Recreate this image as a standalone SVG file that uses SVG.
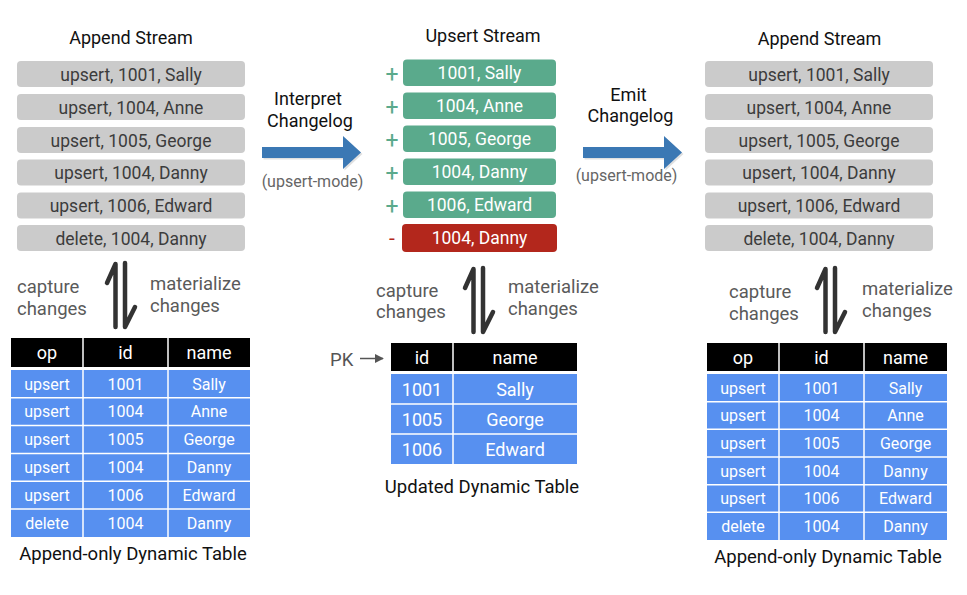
<svg xmlns="http://www.w3.org/2000/svg" xmlns:xlink="http://www.w3.org/1999/xlink" width="967" height="595" viewBox="0 0 967 595">
<style>
text{font-family:Roboto,"Liberation Sans",sans-serif}
.title{font-size:18px;fill:#111;text-anchor:middle}
.lbl{font-size:18.5px;fill:#111;text-anchor:middle}
.side{font-size:18.5px;fill:#5a5a5a}
.mode{font-size:16px;fill:#666;text-anchor:middle}
.gbox{fill:#cbcbcb}
.gtxt{font-size:17.5px;fill:#3c3c3c;text-anchor:middle}
.grn{fill:#5aaa8c}
.red{fill:#b3271c}
.wtxt{font-size:17.5px;fill:#fff;text-anchor:middle}
.plus{font-size:23px;fill:#5aaa8c;text-anchor:middle}
.hdr{fill:#000}
.cell{fill:#5790f0}
.sep{stroke:#fff;stroke-width:1.5}
.th{font-size:18px;fill:#fff;text-anchor:middle}
.td{font-size:16px;fill:#fff;text-anchor:middle}
.td2{font-size:18px;fill:#fff;text-anchor:middle}
.harp{fill:none;stroke:#333;stroke-width:4.5;stroke-linecap:round;stroke-linejoin:round}
.big{fill:#3b78b4}
.shadow{fill:#000;opacity:0.12}
</style>
<defs>
<path id="dharp" d="M115.5 327 V264 L107 283 M125 263 V327 L135 307"/>
<path id="barrow" d="M0 11 H81 V0 L99 16.5 L81 33 V22 H0 Z"/>
<marker id="pkhead" viewBox="0 0 10 10" refX="9" refY="5" markerWidth="6" markerHeight="6" orient="auto"><path d="M0 0 L10 5 L0 10 Z" fill="#555"/></marker>
</defs>

<!-- Left append stream -->
<g id="left-stream">
<text class="title" x="131" y="44">Append Stream</text>
<rect class="gbox" x="17" y="61" width="228" height="26" rx="4"/>
<text class="gtxt" x="131" y="80.5">upsert, 1001, Sally</text>
<rect class="gbox" x="17" y="94" width="228" height="26" rx="4"/>
<text class="gtxt" x="131" y="113.5">upsert, 1004, Anne</text>
<rect class="gbox" x="17" y="127" width="228" height="26" rx="4"/>
<text class="gtxt" x="131" y="146.5">upsert, 1005, George</text>
<rect class="gbox" x="17" y="159.5" width="228" height="26" rx="4"/>
<text class="gtxt" x="131" y="179">upsert, 1004, Danny</text>
<rect class="gbox" x="17" y="192.5" width="228" height="26" rx="4"/>
<text class="gtxt" x="131" y="212">upsert, 1006, Edward</text>
<rect class="gbox" x="17" y="225" width="228" height="26" rx="4"/>
<text class="gtxt" x="131" y="244.5">delete, 1004, Danny</text>
</g>

<!-- Middle upsert stream -->
<g id="upsert-stream">
<text class="title" x="483" y="42">Upsert Stream</text>
<rect class="grn" x="403" y="59.5" width="153" height="26.5" rx="4"/>
<text class="wtxt" x="479.5" y="79">1001, Sally</text>
<text class="plus" x="392" y="82">+</text>
<rect class="grn" x="403" y="92.5" width="153" height="26.5" rx="4"/>
<text class="wtxt" x="479.5" y="112">1004, Anne</text>
<text class="plus" x="392" y="115">+</text>
<rect class="grn" x="403" y="125.5" width="153" height="26.5" rx="4"/>
<text class="wtxt" x="479.5" y="145">1005, George</text>
<text class="plus" x="392" y="148">+</text>
<rect class="grn" x="403" y="158.5" width="153" height="26.5" rx="4"/>
<text class="wtxt" x="479.5" y="178">1004, Danny</text>
<text class="plus" x="392" y="181">+</text>
<rect class="grn" x="403" y="191.5" width="153" height="26.5" rx="4"/>
<text class="wtxt" x="479.5" y="211">1006, Edward</text>
<text class="plus" x="392" y="214">+</text>
<rect class="red" x="402" y="224" width="155" height="28" rx="4"/>
<text class="wtxt" x="479.5" y="244">1004, Danny</text>
<text x="392" y="245" font-size="21" fill="#b3271c" text-anchor="middle">-</text>
</g>

<!-- Right append stream -->
<g id="right-stream">
<text class="title" x="819.5" y="45">Append Stream</text>
<rect class="gbox" x="705" y="61" width="228" height="26" rx="4"/>
<text class="gtxt" x="819" y="80.5">upsert, 1001, Sally</text>
<rect class="gbox" x="705" y="94" width="228" height="26" rx="4"/>
<text class="gtxt" x="819" y="113.5">upsert, 1004, Anne</text>
<rect class="gbox" x="705" y="127" width="228" height="26" rx="4"/>
<text class="gtxt" x="819" y="146.5">upsert, 1005, George</text>
<rect class="gbox" x="705" y="159.5" width="228" height="26" rx="4"/>
<text class="gtxt" x="819" y="179">upsert, 1004, Danny</text>
<rect class="gbox" x="705" y="192.5" width="228" height="26" rx="4"/>
<text class="gtxt" x="819" y="212">upsert, 1006, Edward</text>
<rect class="gbox" x="705" y="225" width="228" height="26" rx="4"/>
<text class="gtxt" x="819" y="244.5">delete, 1004, Danny</text>
</g>

<!-- Connectors -->
<g id="connectors">
<g id="interpret-arrow">
<use xlink:href="#barrow" class="shadow" transform="translate(263.5,137.5)"/>
<use xlink:href="#barrow" class="big" transform="translate(262,136)"/>
<text class="lbl" x="308" y="105" style="font-size:18px">Interpret</text>
<text class="lbl" x="310" y="127" style="font-size:18px">Changelog</text>
<text class="mode" x="312.5" y="187">(upsert-mode)</text>
</g>
<g id="emit-arrow">
<use xlink:href="#barrow" class="shadow" transform="translate(584.5,137.5)"/>
<use xlink:href="#barrow" class="big" transform="translate(583,136)"/>
<text class="lbl" x="628.5" y="100.5" style="font-size:18px">Emit</text>
<text class="lbl" x="630.5" y="122" style="font-size:18px">Changelog</text>
<text class="mode" x="626.5" y="181">(upsert-mode)</text>
</g>
<g id="left-harpoons">
<use xlink:href="#dharp" class="harp"/>
<text class="side" x="17" y="293">capture</text>
<text class="side" x="17" y="315">changes</text>
<text class="side" x="150" y="290">materialize</text>
<text class="side" x="150" y="312">changes</text>
</g>
<g id="mid-harpoons">
<use xlink:href="#dharp" class="harp" transform="translate(358,5)"/>
<text class="side" x="376" y="297">capture</text>
<text class="side" x="376" y="318">changes</text>
<text class="side" x="508" y="293">materialize</text>
<text class="side" x="508" y="315">changes</text>
</g>
<g id="right-harpoons">
<use xlink:href="#dharp" class="harp" transform="translate(710,5)"/>
<text class="side" x="729" y="298">capture</text>
<text class="side" x="729" y="320">changes</text>
<text class="side" x="862" y="295">materialize</text>
<text class="side" x="862" y="317">changes</text>
</g>
<g id="pk-arrow">
<text x="330" y="366" font-size="18.5" fill="#555">PK</text>
<line x1="360" y1="358.5" x2="383" y2="358.5" stroke="#555" stroke-width="1.5" marker-end="url(#pkhead)"/>
</g>
</g>

<!-- Left table -->
<g id="left-table">
<rect class="hdr" x="11" y="338" width="239" height="29"/>
<rect class="cell" x="11" y="370" width="239" height="167"/>
<line class="sep" x1="83" y1="338" x2="83" y2="537"/>
<line class="sep" x1="168" y1="338" x2="168" y2="537"/>
<line class="sep" x1="11" y1="397.8" x2="250" y2="397.8"/>
<line class="sep" x1="11" y1="425.6" x2="250" y2="425.6"/>
<line class="sep" x1="11" y1="453.4" x2="250" y2="453.4"/>
<line class="sep" x1="11" y1="481.2" x2="250" y2="481.2"/>
<line class="sep" x1="11" y1="509" x2="250" y2="509"/>
<text class="th" x="47" y="359">op</text>
<text class="th" x="125.5" y="359">id</text>
<text class="th" x="209" y="359">name</text>
<text class="td" x="47" y="389.5">upsert</text><text class="td" x="125.5" y="389.5">1001</text><text class="td" x="209" y="389.5">Sally</text>
<text class="td" x="47" y="417.3">upsert</text><text class="td" x="125.5" y="417.3">1004</text><text class="td" x="209" y="417.3">Anne</text>
<text class="td" x="47" y="445.1">upsert</text><text class="td" x="125.5" y="445.1">1005</text><text class="td" x="209" y="445.1">George</text>
<text class="td" x="47" y="472.9">upsert</text><text class="td" x="125.5" y="472.9">1004</text><text class="td" x="209" y="472.9">Danny</text>
<text class="td" x="47" y="500.7">upsert</text><text class="td" x="125.5" y="500.7">1006</text><text class="td" x="209" y="500.7">Edward</text>
<text class="td" x="47" y="528.5">delete</text><text class="td" x="125.5" y="528.5">1004</text><text class="td" x="209" y="528.5">Danny</text>
<text class="lbl" x="133" y="560">Append-only Dynamic Table</text>
</g>

<!-- Middle table -->
<g id="updated-table">
<rect class="hdr" x="391" y="343" width="186" height="28"/>
<rect class="cell" x="391" y="374" width="186" height="90"/>
<line class="sep" x1="453" y1="343" x2="453" y2="464"/>
<line class="sep" x1="391" y1="404" x2="577" y2="404"/>
<line class="sep" x1="391" y1="434" x2="577" y2="434"/>
<text class="th" x="422" y="364">id</text>
<text class="th" x="515" y="364">name</text>
<text class="td2" x="422" y="395.5">1001</text><text class="td2" x="515" y="395.5">Sally</text>
<text class="td2" x="422" y="425.5">1005</text><text class="td2" x="515" y="425.5">George</text>
<text class="td2" x="422" y="455.5">1006</text><text class="td2" x="515" y="455.5">Edward</text>
<text class="lbl" x="482" y="493">Updated Dynamic Table</text>
</g>

<!-- Right table -->
<g id="right-table">
<rect class="hdr" x="707" y="343" width="240" height="28"/>
<rect class="cell" x="707" y="374" width="240" height="166"/>
<line class="sep" x1="779" y1="343" x2="779" y2="540"/>
<line class="sep" x1="864" y1="343" x2="864" y2="540"/>
<line class="sep" x1="707" y1="401.7" x2="947" y2="401.7"/>
<line class="sep" x1="707" y1="429.3" x2="947" y2="429.3"/>
<line class="sep" x1="707" y1="457" x2="947" y2="457"/>
<line class="sep" x1="707" y1="484.7" x2="947" y2="484.7"/>
<line class="sep" x1="707" y1="512.3" x2="947" y2="512.3"/>
<text class="th" x="743" y="364">op</text>
<text class="th" x="821.5" y="364">id</text>
<text class="th" x="905.5" y="364">name</text>
<text class="td" x="743" y="393.5">upsert</text><text class="td" x="821.5" y="393.5">1001</text><text class="td" x="905.5" y="393.5">Sally</text>
<text class="td" x="743" y="421.2">upsert</text><text class="td" x="821.5" y="421.2">1004</text><text class="td" x="905.5" y="421.2">Anne</text>
<text class="td" x="743" y="448.8">upsert</text><text class="td" x="821.5" y="448.8">1005</text><text class="td" x="905.5" y="448.8">George</text>
<text class="td" x="743" y="476.5">upsert</text><text class="td" x="821.5" y="476.5">1004</text><text class="td" x="905.5" y="476.5">Danny</text>
<text class="td" x="743" y="504.2">upsert</text><text class="td" x="821.5" y="504.2">1006</text><text class="td" x="905.5" y="504.2">Edward</text>
<text class="td" x="743" y="531.8">delete</text><text class="td" x="821.5" y="531.8">1004</text><text class="td" x="905.5" y="531.8">Danny</text>
<text class="lbl" x="828" y="563">Append-only Dynamic Table</text>
</g>
</svg>
